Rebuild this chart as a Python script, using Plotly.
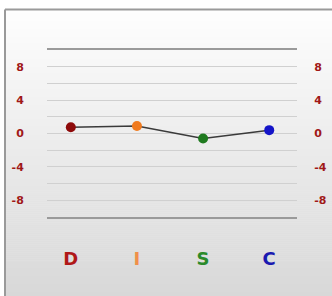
import plotly.graph_objects as go

categories = ["D", "I", "S", "C"]
values = [0.75, 0.9, -0.6, 0.4]
point_colors = ["#8e0a0a", "#f07a1e", "#1f7a1f", "#1414c8"]
label_colors = ["#b01818", "#f0904a", "#2a8a2a", "#1a1ab0"]
tick_vals = [-8, -4, 0, 4, 8]
tick_text = ["-8", "-4", "0", "4", "8"]

W, H = 332, 296

fig = go.Figure()
fig.add_trace(go.Scatter(
    x=categories, y=values, mode="lines+markers",
    line=dict(color="#3a3a3a", width=1.5),
    marker=dict(size=10, color=point_colors),
    showlegend=False, hoverinfo="skip",
))
fig.add_trace(go.Scatter(x=categories, y=values, yaxis="y2", mode="none",
                         showlegend=False, hoverinfo="skip"))

shapes = []
top_px, bot_px = 9, 296
n = 144
for i in range(n):
    p0 = top_px + (bot_px - top_px) * i / n
    p1 = top_px + (bot_px - top_px) * (i + 1) / n + 0.5
    t = i / (n - 1)
    g = int(round(254 - (254 - 216) * t))
    shapes.append(dict(type="rect", xref="paper", yref="paper",
                       x0=5 / W, x1=1, y0=1 - p1 / H, y1=1 - p0 / H,
                       fillcolor=f"rgb({g},{g},{g})", line=dict(width=0),
                       layer="below"))
shapes.append(dict(type="line", xref="paper", yref="paper", x0=5 / W, x1=1,
                   y0=1 - 9.5 / H, y1=1 - 9.5 / H, line=dict(color="#9a9a9a", width=2), layer="below"))
shapes.append(dict(type="line", xref="paper", yref="paper", x0=5 / W, x1=5 / W,
                   y0=0, y1=1 - 9.5 / H, line=dict(color="#9a9a9a", width=2), layer="below"))

ticktext_x = [f'<span style="color:{c}">{t}</span>' for t, c in zip(categories, label_colors)]

fig.update_layout(
    width=W, height=H,
    margin=dict(l=0, r=0, t=0, b=0),
    paper_bgcolor="white", plot_bgcolor="rgba(0,0,0,0)",
    shapes=shapes,
    xaxis=dict(domain=[47 / W, 297 / W], range=[-0.36, 3.42],
               tickmode="array", tickvals=categories, ticktext=ticktext_x,
               tickfont=dict(family="DejaVu Sans", size=18, color="#b01818", weight="bold"),
               ticks="outside", ticklen=24, tickcolor="rgba(0,0,0,0)",
               showgrid=False, showline=True, mirror=True,
               linecolor="#9a9a9a", linewidth=2, zeroline=False,
               fixedrange=True),
    yaxis=dict(domain=[1 - 217 / H, 1 - 50 / H], range=[-10, 10],
               tickmode="array", tickvals=tick_vals, ticktext=tick_text,
               tickfont=dict(family="DejaVu Sans", size=11, color="#a01818", weight="bold"),
               ticks="outside", ticklen=20, tickcolor="rgba(0,0,0,0)",
               showgrid=True, gridcolor="#d0d0d0", gridwidth=1,
               zeroline=False, showline=False,
               minor=dict(tickvals=[-10, -6, -2, 2, 6, 10], showgrid=True,
                          gridcolor="#d0d0d0", gridwidth=1, ticks="")),
    yaxis2=dict(overlaying="y", side="right", range=[-10, 10],
                tickmode="array", tickvals=tick_vals, ticktext=tick_text,
                tickfont=dict(family="DejaVu Sans", size=11, color="#a01818", weight="bold"),
                ticks="outside", ticklen=14, tickcolor="rgba(0,0,0,0)",
                showgrid=False, zeroline=False, showline=False),
)

fig.write_html("out.html", config={"displayModeBar": False},
               post_script="document.body.style.margin='0px';document.body.style.overflow='hidden';")
